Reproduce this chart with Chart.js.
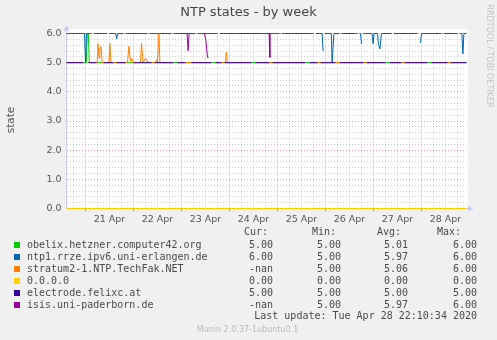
<!DOCTYPE html>
<html>
<head>
<meta charset="utf-8">
<script src="https://cdn.jsdelivr.net/npm/chart.js@4/dist/chart.umd.min.js"></script>
<style>
  html, body { margin: 0; padding: 0; background: #f0f0f0; }
  canvas { display: block; }
</style>
</head>
<body>
<canvas id="ntp" width="497" height="340"></canvas>
<script>
// x = hours counted from 21 Apr 00:00, y = NTP state
const titleText = 'NTP states - by week';
const yTitle = 'state';
const dayLabels = ['21 Apr', '22 Apr', '23 Apr', '24 Apr', '25 Apr', '26 Apr', '27 Apr', '28 Apr'];

const seriesNames = [
  'obelix.hetzner.computer42.org',
  'ntp1.rrze.ipv6.uni-erlangen.de',
  'stratum2-1.NTP.TechFak.NET',
  '0.0.0.0',
  'electrode.felixc.at',
  'isis.uni-paderborn.de'
];
const seriesColors = ['#00cc00', '#0066b3', '#ff8000', '#ffcc00', '#330099', '#990099'];

const curVals = ['5.00', '6.00', '-nan', '0.00', '5.00', '-nan'];
const minVals = ['5.00', '5.00', '5.00', '0.00', '5.00', '5.00'];
const avgVals = ['5.01', '5.97', '5.06', '0.00', '5.00', '5.97'];
const maxVals = ['6.00', '6.00', '6.00', '0.00', '5.00', '6.00'];
const lastUpdate = 'Last update: Tue Apr 28 22:10:34 2020';
const footer = 'Munin 2.0.37-1ubuntu0.1';
const sideText = 'RRDTOOL / TOBI OETIKER';

const obelix = [[-9.5,5],[0.4,5],[0.9,6],[1.4,6],[1.9,5],[190.5,5]];

const ntp1 = [[-9.5,6],[-0.5,6],[0,5],[0.5,6],[3,6],[3.5,null],[4,6],[11,6],[11.5,null],[12,6],
  [15.1,6],[15.6,5.82],[16.1,6],[19,6],[19.5,null],[20,6],[31,6],[31.5,null],[32,6],[43,6],[43.5,null],[44,6],
  [55,6],[55.5,null],[56,6],[66,6],[66.5,null],[67,6],[79,6],[79.5,null],[80,6],[97,6],[97.5,null],[98,6],
  [114,6],[114.5,null],[115,6],[118.3,6],[118.8,5.4],[119.1,null],[119.5,6],[122.9,6],[123.3,5],[124.2,6],
  [127,6],[127.5,null],[128,6],[136,6],[136.5,null],[137,6],[137.5,6],[138,5.64],[138.3,null],[138.8,6],
  [143.3,6],[143.8,5.65],[144.3,6],[146,6],[146.5,5.62],[147.2,5.47],[148,6],[153,6],[153.5,null],[154,6],
  [166,6],[166.5,null],[167.5,5.68],[168,6],[178,6],[178.5,null],[179,6],[186,6],[186.5,null],[187,6],
  [188.2,6],[188.7,5.3],[189.2,6],[190.5,6]];

const stratum2 = [[-9.5,5],[-1.2,5],[-0.5,null],[1.5,5],[5.8,5],[6.3,5.64],[6.8,5.15],[7.2,5.45],[7.8,5.55],[8.3,5],
  [11.7,5],[12.2,5.66],[12.7,5],[21,5],[21.7,5.56],[22.5,5.05],[23.2,5.14],[23.7,5],[27.5,5],[28,5.66],[28.8,5],
  [29.7,5.13],[30.5,5.12],[31,5],[35,5],[35.5,5.1],[36,5],[36.7,6],[37.2,5],[44,5],[45,null],[46,5],[63,5],[64,null],[65,5],
  [70,5],[70.4,5.36],[70.9,5],[83,5],[84,null],[85,5],[110,5],[111,null],[112,5],[150,5],[151,null],[152,5],
  [171,5],[172,null],[173,5],[189,5]];

const zeroHost = [[-9.5,0],[190.5,0]];

const electrode = [[-9.5,5],[-1,5],[0,null],[1.5,5],[5.5,5],[7,null],[9,5],[14,5],[15,null],[15.5,5],[20,5],[22,null],[24,5],
  [33,5],[34,null],[34.5,5],[44,5],[45,null],[46,5],[50,5],[51.5,null],[53,5],[63,5],[64,null],[65,5],[68,5],[69,null],[69.5,5],
  [83,5],[84,null],[85,5],[92,5],[93,null],[93.5,5],[110,5],[111,null],[112,5],[116,5],[117,null],[117.5,5],[125,5],[126,null],[127,5],
  [139,5],[140,null],[140.5,5],[150,5],[151,null],[152,5],[158,5],[159,null],[159.5,5],[171,5],[172,null],[173,5],
  [181,5],[182,null],[182.5,5],[190.5,5]];

const isis = [[5.5,6],[7.5,6],[8,null],[23.5,6],[25.5,6],[26,null],[38,6],[40,6],[41,null],[47,6],[50.8,6],[51.3,5.41],[51.8,6],[52.5,6],[53,null],
  [59.5,6],[60.2,5.76],[61,5.18],[61.5,5.18],[62,null],[72,6],[74,6],[75,null],[77,6],[82,6],[83,null],[84,6],[87,6],[88,null],
  [90.5,6],[91.8,6],[92.2,5.18],[92.6,null],[100,6],[102,6],[103,null],[105,6],[107,6],[108,null],[109,6],[111,6],[112,null],
  [130,6],[134,6],[135,null],[150,6],[151.5,6],[152,null],[157,6],[160,6],[161,null],[162,6],[164,6],[165,null],
  [175,6],[177,6],[178,null],[180,6],[183,6]];

const allSeries = [obelix, ntp1, stratum2, zeroHost, electrode, isis];

const majorGrid = 'rgba(230,90,90,0.65)';
const minorGrid = 'rgba(150,150,150,0.5)';
const axisBlue = '#c8ccf4';
const isWhole = v => Math.abs(v - Math.round(v)) < 1e-6;

const muninFrame = {
  id: 'muninFrame',
  beforeDraw(chart) {
    const ctx = chart.ctx, a = chart.chartArea;
    ctx.save();
    ctx.fillStyle = '#f0f0f0';
    ctx.fillRect(0, 0, chart.width, chart.height);
    ctx.fillStyle = '#ffffff';
    ctx.fillRect(a.left - 0.5, 29, a.right - a.left + 2, a.bottom - 29 + 0.5);
    ctx.restore();
  },
  beforeDatasetsDraw(chart) {
    const ctx = chart.ctx, a = chart.chartArea, xs = chart.scales.x;
    ctx.save();
    ctx.strokeStyle = axisBlue;
    ctx.lineWidth = 1;
    ctx.beginPath();
    ctx.moveTo(a.left, 29); ctx.lineTo(a.left, a.bottom);
    ctx.lineTo(a.right + 2, a.bottom);
    ctx.stroke();
    ctx.fillStyle = axisBlue;
    ctx.beginPath();
    ctx.moveTo(a.left, 25); ctx.lineTo(a.left - 3, 30.5); ctx.lineTo(a.left + 3, 30.5); ctx.closePath(); ctx.fill();
    ctx.beginPath();
    ctx.moveTo(a.right + 7, a.bottom); ctx.lineTo(a.right + 1.5, a.bottom - 3); ctx.lineTo(a.right + 1.5, a.bottom + 3); ctx.closePath(); ctx.fill();
    // small red marks under the axis at midnight
    ctx.strokeStyle = majorGrid;
    xs.ticks.forEach(t => {
      if (t.value % 24 === 0) {
        const px = Math.round(xs.getPixelForValue(t.value) - 0.5) + 0.5;
        ctx.beginPath(); ctx.moveTo(px, a.bottom + 0.5); ctx.lineTo(px, a.bottom + 3); ctx.stroke();
      }
    });
    ctx.restore();
  },
  afterDraw(chart) {
    const ctx = chart.ctx;
    ctx.save();
    ctx.textBaseline = 'middle';
    ctx.fillStyle = '#444';
    ctx.font = '13px "DejaVu Sans"';
    ctx.textAlign = 'center';
    ctx.fillText(titleText, 248.5, 13);

    ctx.fillStyle = '#555';
    ctx.font = '10.5px "DejaVu Sans"';
    ctx.save();
    ctx.translate(11, 120);
    ctx.rotate(-Math.PI / 2);
    ctx.fillText(yTitle, 0, 0);
    ctx.restore();

    ctx.fillStyle = '#c4c4c4';
    ctx.font = '8px "DejaVu Sans"';
    ctx.save();
    ctx.translate(489, 56);
    ctx.rotate(Math.PI / 2);
    ctx.fillText(sideText, 0, 0);
    ctx.restore();

    ctx.fillStyle = '#bcbcbc';
    ctx.fillText(footer, 247.5, 330);

    // legend
    ctx.font = '10px "DejaVu Sans Mono"';
    ctx.fillStyle = '#4a4a4a';
    ctx.textAlign = 'left';
    ctx.fillText('Cur:', 244, 232);
    ctx.fillText('Min:', 312, 232);
    ctx.fillText('Avg:', 377, 232);
    ctx.fillText('Max:', 437, 232);
    seriesNames.forEach((name, i) => {
      const y = 245 + 12 * i;
      ctx.fillStyle = seriesColors[i];
      ctx.fillRect(14, y - 3, 6, 6);
      ctx.fillStyle = '#4a4a4a';
      ctx.textAlign = 'left';
      ctx.fillText(name, 27, y);
      ctx.textAlign = 'right';
      ctx.fillText(curVals[i], 273, y);
      ctx.fillText(minVals[i], 341, y);
      ctx.fillText(avgVals[i], 408, y);
      ctx.fillText(maxVals[i], 477, y);
    });
    ctx.textAlign = 'right';
    ctx.fillText(lastUpdate, 477, 316);
    ctx.restore();
  }
};

new Chart(document.getElementById('ntp'), {
  type: 'line',
  data: {
    datasets: allSeries.map((pts, i) => ({
      label: seriesNames[i],
      data: pts.map(p => ({ x: p[0], y: p[1] })),
      borderColor: seriesColors[i],
      backgroundColor: seriesColors[i],
      borderWidth: 1,
      pointRadius: 0,
      tension: 0,
      fill: false,
      spanGaps: false,
      clip: false,
      order: allSeries.length - i
    }))
  },
  options: {
    responsive: false,
    animation: false,
    devicePixelRatio: 1,
    layout: { padding: { left: 0, top: 33.5, right: 30.5, bottom: 111.5 } },
    plugins: { legend: { display: false }, tooltip: { enabled: false }, title: { display: false } },
    scales: {
      x: {
        type: 'linear',
        min: -9.5,
        max: 190.5,
        afterFit: s => { s.height = 20; },
        border: { display: false, dash: [1, 2] },
        grid: {
          drawTicks: false,
          color: c => (c.tick && c.tick.value % 24 === 0 ? majorGrid : minorGrid)
        },
        ticks: {
          stepSize: 6,
          autoSkip: false,
          includeBounds: false,
          maxRotation: 0,
          padding: 5,
          color: '#555',
          font: { family: 'DejaVu Sans', size: 9.5 },
          callback: v => (v % 24 === 12 ? dayLabels[(v - 12) / 24] : '')
        }
      },
      y: {
        min: 0,
        max: 6,
        afterFit: s => { s.width = 66.5; },
        border: { display: false, dash: [1, 2] },
        grid: {
          drawTicks: false,
          color: c => (c.tick && isWhole(c.tick.value) ? majorGrid : minorGrid)
        },
        ticks: {
          stepSize: 0.2,
          autoSkip: false,
          includeBounds: false,
          padding: 5,
          color: '#555',
          font: { family: 'DejaVu Sans', size: 9.5 },
          callback: v => (isWhole(v) ? Number(v).toFixed(1) : '')
        }
      }
    }
  },
  plugins: [muninFrame]
});
</script>
</body>
</html>
